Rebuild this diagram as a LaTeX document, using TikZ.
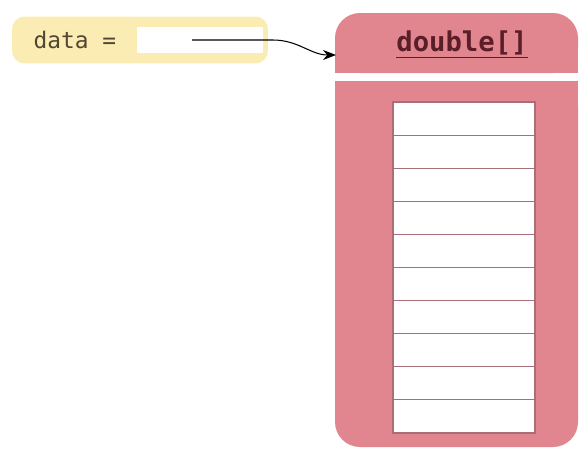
\documentclass[tikz,border=0pt]{standalone}
\usepackage{fontspec}
\setmonofont{DejaVu Sans Mono}
\usepackage{tikz}
\usetikzlibrary{positioning, arrows.meta}

\definecolor{varyellow}{RGB}{250,236,178}
\definecolor{objred}{RGB}{225,134,142}
\definecolor{objtext}{RGB}{90,30,40}
\definecolor{vartext}{RGB}{80,70,50}
\definecolor{cellline}{RGB}{170,110,120}

\tikzset{
  varbox/.style={fill=varyellow, rounded corners=0.25cm, minimum width=5.12cm, minimum height=0.94cm, inner sep=0pt},
  fieldbox/.style={fill=white, minimum width=2.52cm, minimum height=0.52cm, inner sep=0pt},
  cell/.style={fill=white, draw=cellline, line width=0.6pt}
}

\begin{document}
\begin{tikzpicture}[x=0.02cm, y=-0.02cm, >={Stealth[length=2.6mm, width=2mm]}]
  \useasboundingbox (0,0) rectangle (579,450);

  % variable
  \node[varbox] (var) at (140,40) {};
  \node[fieldbox] (field) at (200,40) {};
  \node[text=vartext, font=\ttfamily\fontsize{13}{15}\selectfont] (name) at (75,40) {data =};

  % array object
  \fill[objred, rounded corners=0.5cm] (335,13) rectangle (578,73);
  \fill[objred] (335,45) rectangle (578,73);
  \fill[objred, rounded corners=0.5cm] (335,81) rectangle (578,447);
  \fill[objred] (335,81) rectangle (578,120);
  \node[text=objtext, font=\ttfamily\bfseries\fontsize{15.5}{18}\selectfont] (type) at (462,45) {\underline{double[]}};
  \coordinate (objin) at (336,55);

  \foreach \i in {0,...,9}
    \draw[cell] (393,{102+\i*33.1}) rectangle (535,{102+(\i+1)*33.1});

  % reference
  \draw[->, semithick] ([xshift=-0.16cm]field.center) -- ++(81,0) to[out=0, in=180] (objin);
\end{tikzpicture}
\end{document}
